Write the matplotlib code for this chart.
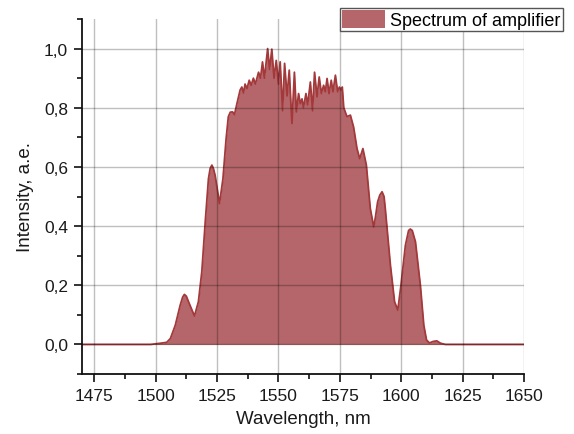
import matplotlib
matplotlib.use("Agg")
import matplotlib.pyplot as plt
from matplotlib.ticker import MultipleLocator, FuncFormatter

plt.rcParams['font.family'] = ['Liberation Sans', 'DejaVu Sans']

# spectrum (nm, a.e.)
wavelength = [1470, 1498, 1502, 1504.5, 1506, 1508, 1510, 1511, 1511.7, 1512.5,
              1513.4, 1515.8, 1517.4, 1518.8, 1520.2, 1521.5, 1522.2, 1522.9,
              1523.5, 1524.2, 1526.0, 1527.4, 1528.7, 1529.6, 1530.4, 1531.3,
              1532.1, 1533.1, 1534.4, 1535.1, 1535.8, 1536.4, 1537.2, 1538.1,
              1538.9, 1539.8, 1540.6, 1541.9, 1542.7, 1543.5, 1544.3, 1545.6,
              1546.4, 1547.3, 1548.2, 1549.1, 1550.0, 1550.7, 1551.7, 1552.5,
              1553.5, 1554.4, 1555.5, 1556.5, 1557.3, 1558.2, 1558.9, 1559.6,
              1560.2, 1561.2, 1561.9, 1563.0, 1563.9, 1564.7, 1565.7, 1566.6,
              1567.5, 1568.4, 1569.1, 1569.8, 1570.6, 1571.5, 1572.2, 1573.2,
              1574.1, 1574.8, 1575.5, 1576.0, 1576.6, 1577.9, 1579.3, 1580.6,
              1582.0, 1583.1, 1584.4, 1585.8, 1587.4, 1588.8, 1589.5, 1590.4,
              1591.3, 1592.2, 1593.0, 1593.5, 1595.6, 1597.3, 1598.6, 1599.9,
              1601.7, 1603.0, 1603.7, 1604.5, 1605.8, 1607.8, 1609.2, 1610.3,
              1611.5, 1613, 1614.5, 1616, 1618, 1650]
intensity = [0, 0, 0.004, 0.007, 0.02, 0.065, 0.133, 0.16, 0.169, 0.163,
             0.144, 0.096, 0.144, 0.246, 0.415, 0.56, 0.595, 0.606,
             0.595, 0.572, 0.476, 0.56, 0.696, 0.77, 0.785, 0.786,
             0.777, 0.814, 0.86, 0.87, 0.85, 0.88, 0.865, 0.893,
             0.876, 0.90, 0.88, 0.92, 0.90, 0.955, 0.90, 1.0,
             0.93, 0.998, 0.90, 0.96, 0.88, 0.955, 0.79, 0.95,
             0.84, 0.927, 0.747, 0.92, 0.786, 0.848, 0.814, 0.83,
             0.80, 0.848, 0.81, 0.887, 0.79, 0.92, 0.837, 0.904,
             0.848, 0.876, 0.854, 0.899, 0.848, 0.893, 0.854, 0.91,
             0.854, 0.87, 0.86, 0.87, 0.80, 0.77, 0.775, 0.735,
             0.662, 0.628, 0.662, 0.606, 0.46, 0.397, 0.43, 0.482,
             0.505, 0.516, 0.50, 0.46, 0.268, 0.144, 0.116, 0.20,
             0.335, 0.385, 0.39, 0.385, 0.347, 0.20, 0.065, 0.015,
             0.005, 0.01, 0.012, 0.004, 0, 0]

fill_color = '#b5666a'
line_color = '#a3393b'
text_color = '#1a1a1a'

fig = plt.figure(figsize=(5.74, 4.35), dpi=100)
ax = fig.add_axes([82/574, 60/435, 442/574, 355/435])

ax.fill_between(wavelength, intensity, 0, color=fill_color, lw=0,
                label='Spectrum of amplifier', zorder=1)
ax.plot(wavelength, intensity, color=line_color, lw=1.3, zorder=2)

ax.set_xlim(1470, 1650)
ax.set_ylim(-0.1, 1.1)
ax.xaxis.set_major_locator(MultipleLocator(25))
ax.xaxis.set_minor_locator(MultipleLocator(12.5))
ax.yaxis.set_major_locator(MultipleLocator(0.2))
ax.yaxis.set_minor_locator(MultipleLocator(0.1))
ax.yaxis.set_major_formatter(FuncFormatter(lambda v, p: f'{v:.1f}'.replace('.', ',').replace('-0,0', '0,0')))

ax.grid(True, which='major', color='black', alpha=0.25, lw=1, zorder=3)
ax.set_axisbelow(False)

for s in ['top', 'right']:
    ax.spines[s].set_visible(False)
for s in ['left', 'bottom']:
    ax.spines[s].set_linewidth(1.3)
    ax.spines[s].set_color('#111111')

ax.tick_params(which='major', direction='out', length=6, width=1.2,
               labelsize=12.5, colors='#111111', labelcolor=text_color, pad=4)
ax.tick_params(which='minor', direction='out', length=3.5, width=1.2,
               colors='#111111')

ax.set_xlabel('Wavelength, nm', fontsize=13.5, color=text_color, labelpad=5)
ax.set_ylabel('Intensity, a.e.', fontsize=13.5, color=text_color, labelpad=7)

leg = ax.legend(loc='upper right', bbox_to_anchor=(563/574, 1 - 9/435),
                bbox_transform=fig.transFigure, fontsize=13, fancybox=False,
                framealpha=1, edgecolor='#555555', borderaxespad=0,
                borderpad=0.12, handlelength=2.4, handleheight=1.15,
                handletextpad=0.3)
leg.get_frame().set_linewidth(1.0)
leg.set_zorder(5)

fig.savefig('out.png', dpi=100)
